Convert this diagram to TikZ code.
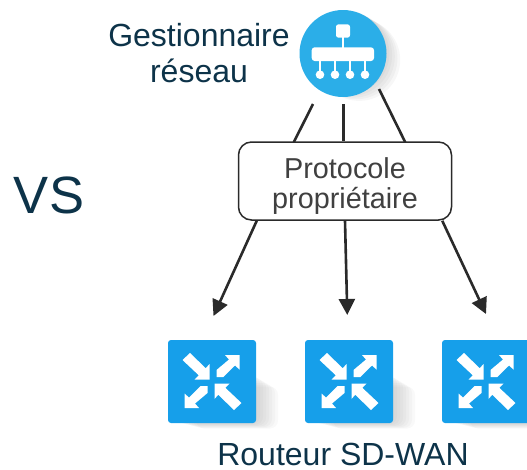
\documentclass[tikz,border=0pt]{standalone}
\usepackage{fontspec}
\setmainfont{Liberation Sans}
\usetikzlibrary{arrows.meta,calc}
\definecolor{ink}{HTML}{0D3349}
\definecolor{disc}{HTML}{2BAEE8}
\definecolor{tile}{HTML}{169FEA}
\definecolor{wire}{HTML}{2A2A2A}
\tikzset{
  x=1pt,y=-1pt,
  label text/.style={font=\fontsize{32}{36}\selectfont,text=ink,align=center,inner sep=0pt},
  box text/.style={font=\fontsize{28.8}{30}\selectfont,text=black!75},
  connector/.style={draw=wire,line width=2.6pt},
  arrowline/.style={connector,-{Triangle[length=16pt,width=16pt]}},
  routertile/.style={fill=tile,rounded corners=3pt,minimum width=88pt,minimum height=83pt,inner sep=0pt},
  glyph/.style={fill=white,draw=none},
  pics/shadowtile/.style={code={
    \foreach \g in {22,19,16,13,10,7,4,1}{
      \fill[black,opacity=.022,rounded corners=8pt] (-38+\g,-8+\g*.6) rectangle (44+\g,41.5+\g*.25);
    }}},
  pics/arrowin/.style={code={
    \fill[white] (-22,-28.5) -- (-29.5,-21.5) -- (-13.25,-6.25) -- (-17.5,-2) -- (-2.5,-2) -- (-2.5,-17.5) -- (-6.25,-13.25) -- cycle;
  }},
  pics/arrowout/.style={code={
    \fill[white] (27.5,-26.5) -- (27.5,-12) -- (23,-16) -- (11.3,-4.5) -- (4.5,-4.5) -- (4.5,-11.5) -- (17,-22) -- (13,-26.5) -- cycle;
  }},
}
\begin{document}
\begin{tikzpicture}
\useasboundingbox (0,0) rectangle (527,469);
\clip (0,0) rectangle (527,469);

% shadows
\foreach \g in {18,15,12,9,6,3}{
  \fill[black,opacity=.03] (343+\g*.9,50+\g*.55) circle (41);
}
\pic at (212,381.5) {shadowtile};
\pic at (349,381.5) {shadowtile};
\pic at (486,381.5) {shadowtile};

% manager
\node[circle,fill=disc,minimum size=87pt,inner sep=0pt] (mgr) at (343,53.5) {};
\coordinate (ml) at (313,104);
\coordinate (mm) at (343.5,104);
\coordinate (mr) at (379,89);
\node[label text] (mgrlabel) at (199,53) {Gestionnaire\\réseau};

% manager icon
\fill[glyph,rounded corners=2.5pt] (336,24.3) rectangle (350,37.7);
\fill[glyph] (342,36) rectangle (344,48);
\fill[glyph,rounded corners=3pt] (311.7,47.3) rectangle (374,61);
\foreach \x in {320,335,350,365}{
  \fill[glyph] (\x-1,60) rectangle (\x+1,72);
  \fill[glyph] (\x,74.7) circle (4.3);
}

% protocol box
\node[draw=wire,line width=1.5pt,fill=white,rounded corners=13pt,minimum width=213pt,minimum height=78pt,inner sep=0pt,align=center,box text] (proto) at (345,181) {\rule{0pt}{30pt}Protocole\\propriétaire};

% routers
\node[routertile] (r1) at (212,381.5) {};
\node[routertile] (r2) at (349,381.5) {};
\node[routertile] (r3) at (486,381.5) {};
\foreach \n in {r1,r2,r3}{
  \begin{scope}[shift={(\n)}]
    \pic at (0,0) {arrowin};
    \pic[rotate=180] at (0,0) {arrowin};
    \pic at (0,0) {arrowout};
    \pic[rotate=180] at (0,0) {arrowout};
  \end{scope}
}

% connectors
\draw[connector] (ml) -- ($(proto.north west)+(56,1)$);
\draw[connector] (mm) -- ($(proto.north)+(-1.5,0)$);
\draw[connector] (mr) -- ($(proto.north east)+(-47,1)$);
\coordinate (a1) at (213.5,316);
\coordinate (a2) at (347.3,315);
\coordinate (a3) at (486,314);
\draw[arrowline] ($(proto.south west)+(19,0)$) -- (a1);
\draw[arrowline] ($(proto.south)+(0,0)$) -- (a2);
\draw[arrowline] ($(proto.south east)+(-10,0)$) -- (a3);

% texts
\node[font=\fontsize{52.5}{58}\selectfont,text=ink,inner sep=0pt] (vs) at (49,195) {VS};
\node[label text,anchor=base] (rlabel) at (343,465) {Routeur SD-WAN};
\end{tikzpicture}
\end{document}
